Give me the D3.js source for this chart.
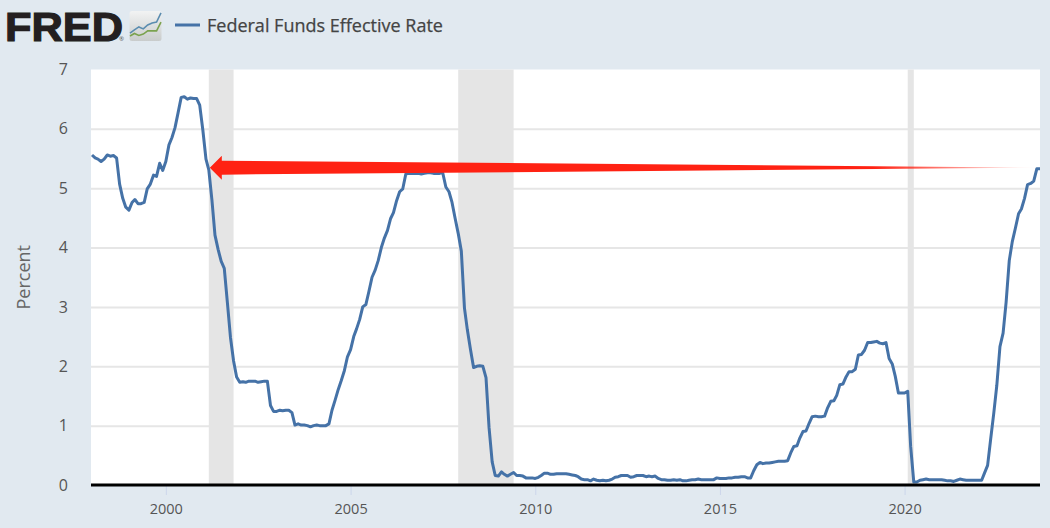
<!DOCTYPE html>
<html>
<head>
<meta charset="utf-8">
<script src="https://cdn.jsdelivr.net/npm/d3@7"></script>
<style>
html, body { margin: 0; padding: 0; background: #e1e9f0; overflow: hidden; }
svg { display: block; }
text { font-family: "Open Sans", sans-serif; }
</style>
</head>
<body>
<div id="graph"></div>
<script>
//Data
const seriesName = 'Federal Funds Effective Rate';
const yLabel = 'Percent';
const firstMonth = new Date(1998, 0, 1);
const rates = [
    5.56,5.51,5.49,5.45,5.49,5.56,5.54,5.55,5.51,5.07,4.83,4.68,
    4.63,4.76,4.81,4.74,4.74,4.76,4.99,5.07,5.22,5.20,5.42,5.30,
    5.45,5.73,5.85,6.02,6.27,6.53,6.54,6.50,6.52,6.51,6.51,6.40,
    5.98,5.49,5.31,4.80,4.21,3.97,3.77,3.65,3.07,2.49,2.09,1.82,
    1.73,1.74,1.73,1.75,1.75,1.75,1.73,1.74,1.75,1.75,1.34,1.24,
    1.24,1.26,1.25,1.26,1.26,1.22,1.01,1.03,1.01,1.01,1.00,0.98,
    1.00,1.01,1.00,1.00,1.00,1.03,1.26,1.43,1.61,1.76,1.93,2.16,
    2.28,2.50,2.63,2.79,3.00,3.04,3.26,3.50,3.62,3.78,4.00,4.16,
    4.29,4.49,4.59,4.79,4.94,4.99,5.24,5.25,5.25,5.25,5.25,5.24,
    5.25,5.26,5.26,5.25,5.25,5.25,5.26,5.02,4.94,4.76,4.49,4.24,
    3.94,2.98,2.61,2.28,1.98,2.00,2.01,2.00,1.81,0.97,0.39,0.16,
    0.15,0.22,0.18,0.15,0.18,0.21,0.16,0.16,0.15,0.12,0.12,0.12,
    0.11,0.13,0.16,0.20,0.20,0.18,0.18,0.19,0.19,0.19,0.19,0.18,
    0.17,0.16,0.14,0.10,0.09,0.09,0.07,0.10,0.08,0.07,0.08,0.07,
    0.08,0.10,0.13,0.14,0.16,0.16,0.16,0.13,0.14,0.16,0.16,0.16,
    0.14,0.15,0.14,0.15,0.11,0.09,0.09,0.08,0.08,0.09,0.08,0.09,
    0.07,0.07,0.08,0.09,0.09,0.10,0.09,0.09,0.09,0.09,0.09,0.12,
    0.11,0.11,0.11,0.12,0.12,0.13,0.13,0.14,0.14,0.12,0.12,0.24,
    0.34,0.38,0.36,0.37,0.37,0.38,0.39,0.40,0.40,0.40,0.41,0.54,
    0.65,0.66,0.79,0.90,0.91,1.04,1.15,1.16,1.15,1.15,1.16,1.30,
    1.41,1.42,1.51,1.69,1.70,1.82,1.91,1.91,1.95,2.19,2.20,2.27,
    2.40,2.40,2.41,2.42,2.39,2.38,2.40,2.13,2.04,1.83,1.55,1.55,
    1.55,1.58,0.65,0.05,0.05,0.08,0.09,0.10,0.09,0.09,0.09,0.09,
    0.09,0.08,0.07,0.07,0.06,0.08,0.10,0.09,0.08,0.08,0.08,0.08,
    0.08,0.08,0.20,0.33,0.77,1.21,1.68,2.33,2.56,3.08,3.78,4.10,
    4.33,4.57,4.65,4.83,5.06,5.08,5.12,5.33,5.33
];
const xTickYears = [2000, 2005, 2010, 2015, 2020];
const yTickValues = [0, 1, 2, 3, 4, 5, 6, 7];
const recessions = [
    [new Date(2001, 2, 1), new Date(2001, 10, 1)],
    [new Date(2007, 11, 1), new Date(2009, 5, 1)],
    [new Date(2020, 1, 1), new Date(2020, 3, 1)]
];
const arrowFrom = new Date(2023, 7, 15);
const arrowTo = new Date(2001, 2, 1);
const arrowLevel = 5.33;
//Logo sparkline values
const logoBlue = [1.5, 2.5, 3.4, 2.8, 4, 4.6, 4.9, 7.7];
const logoGreen = [0.6, 1.4, 0.8, 1.2, 2.2, 2.2, 2.2, 4.9];

//General config
const margin = {top: 70, right: 10, bottom: 43, left: 91};
const fullWidth = 1050;
const fullHeight = 528;
const lineColor = '#4572a7';

//Scales
const points = rates.map((r, i) => ({date: d3.timeMonth.offset(firstMonth, i), rate: r}));
const x = d3.scaleTime()
    .domain(d3.extent(points, d => d.date))
    .range([margin.left + 1, fullWidth - margin.right]);
const y = d3.scaleLinear()
    .domain([0, 7])
    .range([fullHeight - margin.bottom, margin.top - 0.5]);
const plotLeft = margin.left;
const plotRight = fullWidth - margin.right;

const svg = d3.select('#graph').append('svg')
    .attr('width', fullWidth)
    .attr('height', fullHeight);

const defs = svg.append('defs');
const fade = defs.append('linearGradient')
    .attr('id', 'arrow-fade')
    .attr('gradientUnits', 'userSpaceOnUse')
    .attr('x1', x(arrowTo)).attr('x2', x(arrowFrom))
    .attr('y1', 0).attr('y2', 0);
fade.append('stop').attr('offset', '0.8').attr('stop-color', '#ff2213');
fade.append('stop').attr('offset', '1').attr('stop-color', '#ff2213').attr('stop-opacity', 0.05);
const logoFill = defs.append('linearGradient')
    .attr('id', 'logo-fill')
    .attr('x1', 0).attr('x2', 0).attr('y1', 0).attr('y2', 1);
logoFill.append('stop').attr('offset', '0').attr('stop-color', '#f2f3f3');
logoFill.append('stop').attr('offset', '1').attr('stop-color', '#c9cccc');

//Plot background
svg.append('rect')
    .attr('x', plotLeft)
    .attr('y', y(7))
    .attr('width', plotRight - plotLeft)
    .attr('height', y(0) - y(7))
    .attr('fill', '#fff');

//Grid lines
svg.append('g')
    .attr('transform', `translate(${plotLeft}, 0)`)
    .call(d3.axisLeft(y).tickValues(yTickValues.slice(1, -1)).tickSize(-(plotRight - plotLeft)).tickFormat(''))
    .call(g => g.select('.domain').remove())
    .call(g => g.selectAll('line').attr('stroke', '#e6e6e6').attr('stroke-width', 2));

//Recession bands
svg.selectAll('.recession')
    .data(recessions)
    .enter()
    .append('rect')
    .attr('class', 'recession')
    .attr('x', d => x(d[0]))
    .attr('y', y(7))
    .attr('width', d => x(d[1]) - x(d[0]))
    .attr('height', y(0) - y(7))
    .attr('fill', '#e5e5e5');

//X axis
const xAxis = svg.append('g')
    .attr('transform', `translate(0, ${y(0)})`)
    .call(d3.axisBottom(x)
        .tickValues(xTickYears.map(d => new Date(d, 0, 1)))
        .tickSize(10)
        .tickPadding(9)
        .tickFormat(d3.timeFormat('%Y')));
xAxis.select('.domain').remove();
xAxis.selectAll('line').attr('stroke', '#ccd6eb');
xAxis.selectAll('text')
    .attr('fill', '#555')
    .style('font-size', '14.5px');

//Y axis
const yAxis = svg.append('g')
    .attr('transform', `translate(${plotLeft}, 0)`)
    .call(d3.axisLeft(y).tickValues(yTickValues).tickSize(0).tickPadding(23).tickFormat(d3.format('d')));
yAxis.select('.domain').remove();
yAxis.selectAll('text')
    .attr('fill', '#555')
    .style('font-size', '16px');

svg.append('text')
    .attr('transform', `translate(30, ${(y(0) + y(7)) / 2}) rotate(-90)`)
    .attr('text-anchor', 'middle')
    .attr('fill', '#666')
    .style('font-size', '18px')
    .text(yLabel);

//Line
const line = d3.line()
    .x(d => x(d.date))
    .y(d => y(d.rate));

svg.append('path')
    .datum(points)
    .attr('d', line)
    .attr('fill', 'none')
    .attr('stroke', lineColor)
    .attr('stroke-width', 3)
    .attr('stroke-linejoin', 'round');

//Baseline on top of the line
svg.append('line')
    .attr('x1', plotLeft)
    .attr('x2', plotRight)
    .attr('y1', y(0))
    .attr('y2', y(0))
    .attr('stroke', '#000')
    .attr('stroke-width', 3);

//Red arrow
const tipX = x(arrowTo) + 1;
const tailX = x(arrowFrom);
const arrowY = y(arrowLevel) - 1;
svg.append('path')
    .attr('d', d3.line()([
        [tipX, arrowY],
        [tipX + 12, arrowY - 12],
        [tipX + 12, arrowY - 7],
        [tailX, arrowY],
        [tipX + 12, arrowY + 7],
        [tipX + 12, arrowY + 12]
    ]) + 'Z')
    .attr('fill', 'url(#arrow-fade)');

//Logo
svg.append('text')
    .attr('x', 5)
    .attr('y', 41)
    .attr('textLength', 118)
    .attr('lengthAdjust', 'spacingAndGlyphs')
    .attr('fill', '#231f20')
    .attr('stroke', '#231f20')
    .attr('stroke-width', 1.2)
    .style('font-family', '"Liberation Sans", sans-serif')
    .style('font-weight', 700)
    .style('font-size', '41px')
    .text('FRED');

svg.append('text')
    .attr('x', 119)
    .attr('y', 41)
    .attr('fill', '#555')
    .style('font-size', '6px')
    .text('®');

svg.append('rect')
    .attr('x', 129.5)
    .attr('y', 11)
    .attr('width', 32)
    .attr('height', 30)
    .attr('rx', 2.5)
    .attr('fill', 'url(#logo-fill)');

const logoX = d3.scaleLinear().domain([0, 7]).range([130, 161]);
const logoY = d3.scaleLinear().domain([0, 8]).range([38, 12]);
const logoLine = d3.line().x((d, i) => logoX(i)).y(d => logoY(d));
[[logoBlue, '#5b8db0'], [logoGreen, '#7ba24f']].forEach(d => {
    svg.append('path')
        .attr('d', logoLine(d[0]))
        .attr('fill', 'none')
        .attr('stroke', d[1])
        .attr('stroke-width', 1.6);
});

//Legend
svg.append('line')
    .attr('x1', 175)
    .attr('x2', 200)
    .attr('y1', 25)
    .attr('y2', 25)
    .attr('stroke', lineColor)
    .attr('stroke-width', 3);

svg.append('text')
    .attr('x', 207)
    .attr('y', 32)
    .attr('fill', '#444')
    .attr('stroke', '#444')
    .attr('stroke-width', 0.25)
    .style('font-size', '18px')
    .style('font-weight', 400)
    .text(seriesName);
</script>
</body>
</html>
